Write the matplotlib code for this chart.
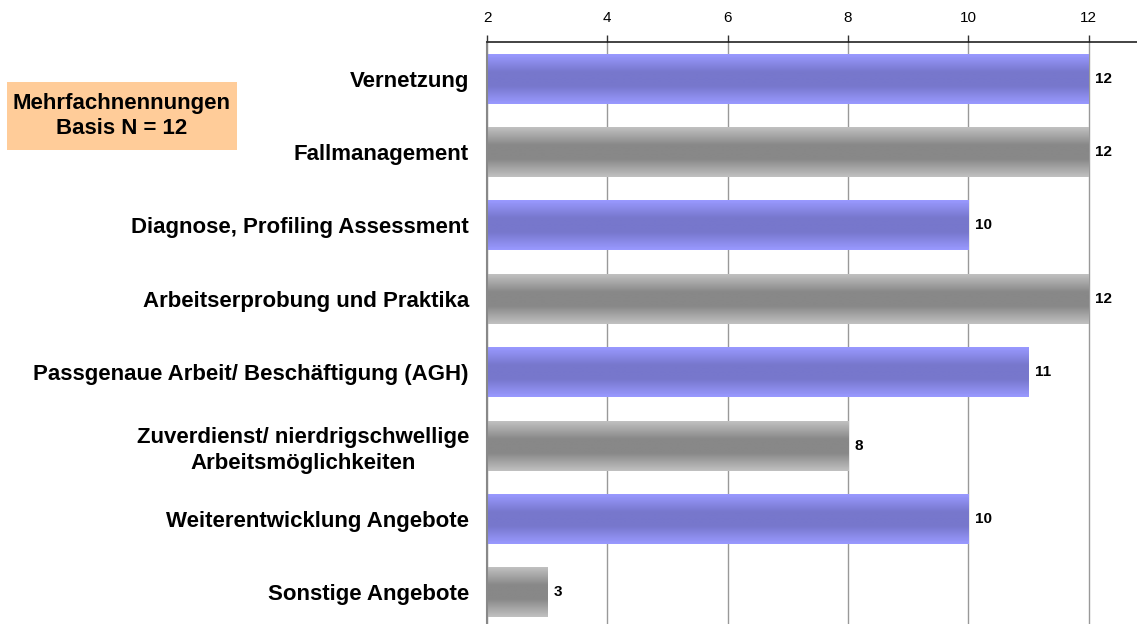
import matplotlib
matplotlib.use("Agg")
import matplotlib.pyplot as plt
import numpy as np

categories = [
    "Vernetzung",
    "Fallmanagement",
    "Diagnose, Profiling Assessment",
    "Arbeitserprobung und Praktika",
    "Passgenaue Arbeit/ Beschäftigung (AGH)",
    "Zuverdienst/ nierdrigschwellige\nArbeitsmöglichkeiten",
    "Weiterentwicklung Angebote",
    "Sonstige Angebote",
]
values = [12, 12, 10, 12, 11, 8, 10, 3]
bar_kinds = ["blue", "gray", "blue", "gray", "blue", "gray", "blue", "gray"]
xticks = [2, 4, 6, 8, 10, 12]
note_text = "Mehrfachnennungen\nBasis N = 12"

plt.rcParams['font.family'] = ['Liberation Sans', 'DejaVu Sans']

W, H = 1137, 624
fig = plt.figure(figsize=(W / 100, H / 100), dpi=100)
left = 487 / W
top = 42 / H
right = 1137 / W
ax = fig.add_axes([left, -5 / H, right - left, 1 - top + 5 / H])

xmin, xmax = 2, 12.8

grads = {
    "blue": (np.array([0x99, 0x99, 0xff]) / 255, np.array([0x77, 0x77, 0xcc]) / 255),
    "gray": (np.array([0xc0, 0xc0, 0xc0]) / 255, np.array([0x88, 0x88, 0x88]) / 255),
}
t = np.linspace(0, 1, 64)
w = 1 - np.abs(2 * t - 1)
w = np.clip(w * 1.4, 0, 1)

bh = 0.68
for i, (v, kind) in enumerate(zip(values, bar_kinds)):
    edge, mid = grads[kind]
    g = edge[None, :] * (1 - w[:, None]) + mid[None, :] * w[:, None]
    img = g[:, None, :]
    ax.imshow(img, extent=[xmin, v, i + bh / 2, i - bh / 2], aspect='auto',
              interpolation='bilinear', zorder=2)
    ax.text(v + 0.11, i, str(v), va='center', ha='left', fontsize=11,
            fontweight='bold', color='black', zorder=3)

ax.set_xlim(xmin, xmax)
ax.set_ylim(len(categories) - 0.5, -0.5)

ax.set_yticks(range(len(categories)))
ax.set_yticklabels(categories, fontsize=16, fontweight='bold',
                   multialignment='center', linespacing=1.3)
ax.tick_params(axis='y', length=0, pad=13)

ax.xaxis.tick_top()
ax.set_xticks(xticks)
ax.set_xticklabels([str(x) for x in xticks], fontsize=11)
ax.tick_params(axis='x', direction='out', length=5, width=1, color='#333333', pad=7)

ax.grid(axis='x', color='#999999', linewidth=1, zorder=0)
ax.set_axisbelow(True)

for s in ['right', 'bottom']:
    ax.spines[s].set_visible(False)
ax.spines['top'].set_color('#222222')
ax.spines['top'].set_linewidth(1.2)
ax.spines['left'].set_color('#888888')
ax.spines['left'].set_linewidth(1.5)

fig.patches.append(matplotlib.patches.Rectangle((7 / W, 1 - 150 / H), 230 / W, 68 / H,
                                                transform=fig.transFigure,
                                                facecolor='#ffcc99', edgecolor='none'))
fig.text(122 / W, 1 - 116 / H, note_text, ha='center', va='center', fontsize=16,
         fontweight='bold', multialignment='center', linespacing=1.3)

fig.savefig("out.png", dpi=100)
